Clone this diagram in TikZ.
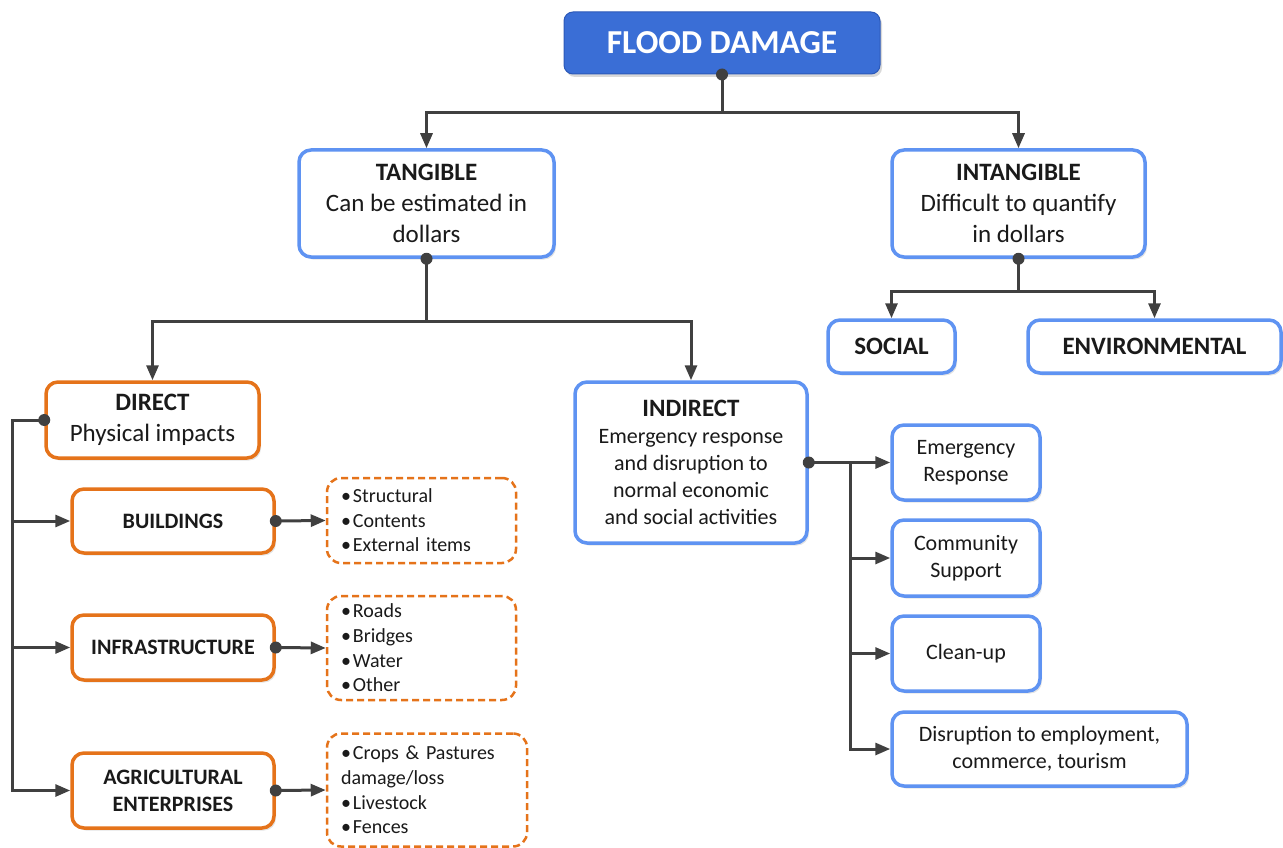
\documentclass[tikz,border=0pt]{standalone}
\usepackage{fontspec}
\setmainfont{Carlito}
\usetikzlibrary{positioning,arrows.meta,shadows}
\definecolor{ink}{HTML}{1A1A1A}
\definecolor{cable}{HTML}{404040}
\definecolor{fBlue}{HTML}{3A6ED6}
\definecolor{fBlueDark}{HTML}{2C59B8}
\definecolor{lBlue}{HTML}{5F93F2}
\definecolor{fOrange}{HTML}{E5731A}
\newcommand\fdTitle{\fontsize{33.5}{40}\selectfont\bfseries}
\newcommand\fdHead{\fontsize{25}{31}\selectfont}
\newcommand\fdBody{\fontsize{22}{27}\selectfont}
\newcommand\fdList{\fontsize{20}{24.6}\selectfont}
\newcommand\bul{•\kern2pt}
\tikzset{
  card/.style={rounded corners=12pt, line width=3.5pt, fill=white, text=ink, align=center, inner sep=0pt,
    drop shadow={opacity=0.22, shadow xshift=2pt, shadow yshift=-2.5pt}},
  bluecard/.style={card, draw=lBlue},
  orangecard/.style={card, draw=fOrange},
  titlecard/.style={rounded corners=9pt, fill=fBlue, draw=fBlueDark, line width=1pt, text=white, font=\fdTitle,
    drop shadow={opacity=0.3, shadow xshift=2pt, shadow yshift=-3pt}},
  listcard/.style={rounded corners=14pt, draw=fOrange, line width=2.5pt, dash pattern=on 7pt off 4pt, fill=white,
    text=ink, align=left, inner xsep=14pt, inner ysep=0pt, font=\fdList},
  flow/.style={draw=cable, line width=3pt, -{Triangle[length=15pt, width=12pt]}},
  knob/.style={fill=cable},
}
\begin{document}
\begin{tikzpicture}[x=1pt, y=-1pt]
\useasboundingbox (0,0) rectangle (1283,848);
\node[titlecard, minimum width=316pt, minimum height=62pt] (flood) at (722,43) {FLOOD DAMAGE};

\node[bluecard, font=\fdHead, minimum width=255pt, minimum height=107pt] (tang) at (426.5,203.5) {\textbf{TANGIBLE}\\Can be estimated in\\dollars};
\node[bluecard, font=\fdHead, minimum width=253pt, minimum height=107pt] (intang) at (1018.5,203.5) {\textbf{INTANGIBLE}\\Difficult to quantify\\in dollars};
\node[bluecard, font=\fdHead\bfseries, minimum width=127pt, minimum height=53pt] (social) at (891.5,346.5) {SOCIAL};
\node[bluecard, font=\fdHead\bfseries, minimum width=253pt, minimum height=53pt] (env) at (1154.5,346.5) {ENVIRONMENTAL};

\node[orangecard, font=\fdHead, minimum width=213pt, minimum height=76pt] (direct) at (152.5,420) {\textbf{DIRECT}\\Physical impacts};
\node[bluecard, font=\fdBody, minimum width=232pt, minimum height=161pt] (indirect) at (691,462.5) {{\fdHead\bfseries INDIRECT}\\Emergency response\\and disruption to\\normal economic\\and social activities};

\node[orangecard, font=\fdBody\bfseries, minimum width=202pt, minimum height=64pt] (build) at (173,521) {BUILDINGS};
\node[orangecard, font=\fdBody\bfseries, minimum width=202pt, minimum height=65pt] (infra) at (173,647.5) {INFRASTRUCTURE};
\node[orangecard, font=\fdBody\bfseries, minimum width=202pt, minimum height=75pt] (agri) at (173,790.5) {AGRICULTURAL\\ENTERPRISES};

\node[listcard, minimum width=189pt, minimum height=85pt, text width=161pt] (buildlist) at (421.5,520.5) {\bul Structural\\\bul Contents\\\bul External items};
\node[listcard, minimum width=189pt, minimum height=104pt, text width=161pt] (infralist) at (421.5,648) {\bul Roads\\\bul Bridges\\\bul Water\\\bul Other};
\node[listcard, minimum width=200pt, minimum height=113pt, text width=172pt] (agrilist) at (427,790) {\bul Crops \& Pastures\\damage/loss\\\bul Livestock\\\bul Fences};

\node[bluecard, font=\fdBody, minimum width=148pt, minimum height=75pt] (emerg) at (966,462.5) {Emergency\\Response};
\node[bluecard, font=\fdBody, minimum width=148pt, minimum height=76pt] (comm) at (966,558) {Community\\Support};
\node[bluecard, font=\fdBody, minimum width=148pt, minimum height=75pt] (clean) at (966,653.5) {Clean-up};
\node[bluecard, font=\fdBody, minimum width=295pt, minimum height=74pt] (disr) at (1039.5,749) {Disruption to employment,\\commerce, tourism};

\draw[flow] (flood.south) -- ++(0,38) -| (tang.north);
\draw[flow] (flood.south) -- ++(0,38) -| (intang.north);
\draw[flow] (tang.south) -- ++(0,63) -| (direct.north);
\draw[flow] (tang.south) -- ++(0,63) -| (indirect.north);
\draw[flow] (intang.south) -- ++(0,33) -| (social.north);
\draw[flow] (intang.south) -- ++(0,33) -| (env.north);

\draw[flow] (direct.west) -- ++(-32,0) coordinate (dbus) |- (agri.west);
\draw[flow] (dbus) |- (build.west);
\draw[flow] (dbus) |- (infra.west);
\draw[flow] (build.east) -- (buildlist.west);
\draw[flow] (infra.east) -- (infralist.west);
\draw[flow] (agri.east) -- (agrilist.west);

\draw[flow] (indirect.east) -- (emerg.west);
\path (indirect.east) ++(42,0) coordinate (ibus);
\draw[flow] (ibus) |- (comm.west);
\draw[flow] (ibus) |- (clean.west);
\draw[flow] (ibus) |- (disr.west);

\foreach \n in {flood.south, tang.south, intang.south, direct.west, indirect.east, build.east, infra.east, agri.east}
  \fill[knob] (\n) circle[radius=6pt];
\end{tikzpicture}
\end{document}
